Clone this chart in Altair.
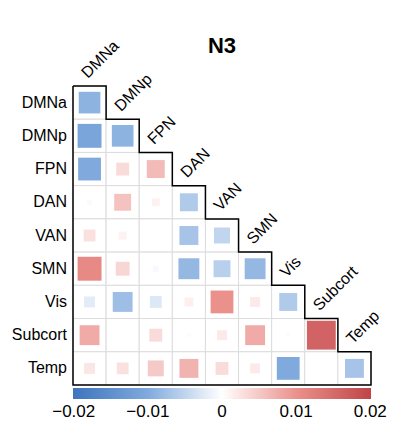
import altair as alt
import pandas as pd

networks = ["DMNa", "DMNp", "FPN", "DAN", "VAN", "SMN", "Vis", "Subcort", "Temp"]

row_DMNa = [-0.009]
row_DMNp = [-0.011, -0.009]
row_FPN = [-0.010, 0.0032, 0.0062]
row_DAN = [-0.0005, 0.0055, 0.0012, -0.0062]
row_VAN = [0.0027, 0.0012, 0.0002, -0.0069, -0.0049]
row_SMN = [0.011, 0.0037, -0.0007, -0.0084, -0.0055, -0.0084]
row_Vis = [-0.0023, -0.0076, -0.0027, 0.0015, 0.010, 0.0019, -0.0062]
row_Subcort = [0.0076, 0.0001, 0.0032, -0.0003, 0.0019, 0.0076, -0.0003, 0.016]
row_Temp = [0.0023, 0.0027, 0.0049, 0.0069, 0.0032, 0.0019, -0.010, 0.0001, -0.0069]

rows = [row_DMNa, row_DMNp, row_FPN, row_DAN, row_VAN, row_SMN, row_Vis, row_Subcort, row_Temp]

color_ticks = [-0.02, -0.01, 0, 0.01, 0.02]
color_domain = [-0.0201, -0.01, 0, 0.01, 0.0201]
color_stops = ["#3d74bd", "#80aadd", "#ffffff", "#eb918c", "#bf4448"]

recs = []
for i, r in enumerate(rows):
    for j, v in enumerate(r):
        recs.append({"row": networks[i], "col": networks[j], "i": i, "j": j, "value": v})
df = pd.DataFrame(recs)

diag = pd.DataFrame({"name": networks, "i": list(range(len(networks)))})

n = len(networks)
pts = [(0, 0)]
for k in range(n):
    pts.append((k + 1, k))
    pts.append((k + 1, k + 1))
pts.append((0, n))
pts.append((0, 0))
outline = pd.DataFrame({"px": [p[0] for p in pts], "py": [p[1] for p in pts], "k": list(range(len(pts)))})

xs = alt.Scale(domain=[0, n], nice=False, zero=False)
ys = alt.Scale(domain=[0, n], nice=False, zero=False, reverse=True)

base = alt.Chart(df)

cells = base.mark_rect(fill="white", stroke="#dcdcdc", strokeWidth=1).transform_calculate(
    x1="datum.j + 1", y1="datum.i + 1"
).encode(
    x=alt.X("j:Q", scale=xs, axis=None),
    x2="x1:Q",
    y=alt.Y("i:Q", scale=ys, axis=None),
    y2="y1:Q",
)

squares = base.mark_square(opacity=1, strokeWidth=0).transform_calculate(
    xc="datum.j + 0.5", yc="datum.i + 0.5", absv="abs(datum.value)"
).encode(
    x=alt.X("xc:Q", scale=xs, axis=None),
    y=alt.Y("yc:Q", scale=ys, axis=None),
    size=alt.Size("absv:Q", scale=alt.Scale(domain=[0, 0.02], range=[0, 1040]), legend=None),
    color=alt.Color("value:Q", scale=alt.Scale(domain=color_domain, range=color_stops, interpolate="rgb"),
                    legend=alt.Legend(orient="none", legendX=0, legendY=302, direction="horizontal",
                                      gradientLength=298, gradientThickness=11, title=None,
                                      values=color_ticks, format=".2~f", labelFontSize=17,
                                      labelFont="Liberation Sans", labelColor="black",
                                      labelOverlap=False, labelOffset=5,
                                      gradientStrokeWidth=0, padding=0)),
)

line = alt.Chart(outline).mark_line(color="black", strokeWidth=1.5).encode(
    x=alt.X("px:Q", scale=xs, axis=None),
    y=alt.Y("py:Q", scale=ys, axis=None),
    order="k:Q",
)

dlabels = alt.Chart(diag).mark_text(angle=315, align="left", baseline="alphabetic", dx=15.5, dy=-18,
                                    fontSize=16, font="Liberation Sans", color="black").transform_calculate(
    c="datum.i + 0.5"
).encode(
    x=alt.X("c:Q", scale=xs, axis=None),
    y=alt.Y("c:Q", scale=ys, axis=None),
    text="name:N",
)

rlabels = alt.Chart(diag).mark_text(align="right", baseline="middle", dx=-6,
                                    fontSize=16, font="Liberation Sans", color="black").transform_calculate(
    c="datum.i + 0.5", z="0"
).encode(
    x=alt.X("z:Q", scale=xs, axis=None),
    y=alt.Y("c:Q", scale=ys, axis=None),
    text="name:N",
)

chart = alt.layer(cells, squares, line, dlabels, rlabels).properties(
    width=298, height=299,
    title=alt.TitleParams(text="N3", fontSize=22, fontWeight="bold", font="Liberation Sans",
                          anchor="middle", frame="group", offset=6, dy=26, color="black"),
    autosize=alt.AutoSizeParams(type="none"),
    padding={"left": 65, "top": 78, "right": 16, "bottom": 38},
).configure_view(stroke=None)

chart.save("out.html", embed_options={"renderer": "svg", "actions": False})
